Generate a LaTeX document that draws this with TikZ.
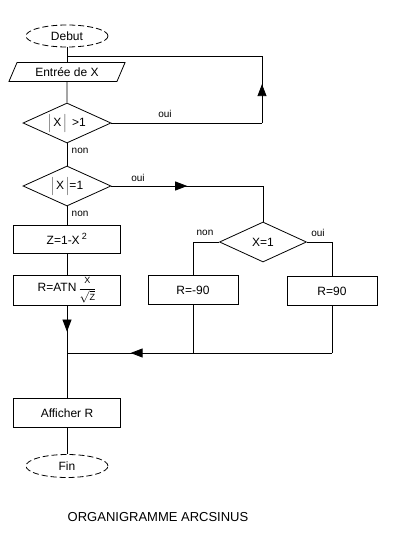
\documentclass[tikz,border=0pt]{standalone}
\usepackage{fontspec}
\setmainfont{Liberation Sans}
\usetikzlibrary{arrows.meta, positioning, shapes.geometric, decorations.markings}

\begin{document}
\begin{tikzpicture}[x=1pt,y=-1pt,line width=0.8pt,
  font=\fontsize{12}{14}\selectfont,
  boite/.style={draw,rectangle,minimum width=107pt,minimum height=29pt},
  losange/.style={draw,diamond,aspect=2.4,inner sep=0pt,minimum width=88pt,minimum height=40pt},
  borne/.style={draw,dash pattern=on 6pt off 3pt,ellipse,minimum width=82pt,minimum height=22pt},
  etiq/.style={font=\fontsize{10}{12}\selectfont},
  milieu/.style={postaction={decorate,decoration={markings,
    mark=at position #1 with {\arrow{Triangle[length=12pt,width=9pt]}}}}}]
  \useasboundingbox (0,0) rectangle (400,543);

  % colonne de gauche
  \node[borne] (debut) at (67,36) {Debut};
  \node[draw,trapezium,trapezium left angle=70,trapezium right angle=110,
    trapezium stretches=true,minimum width=117pt,minimum height=19pt] (entree) at (67,72) {Entrée de X};
  \node[losange] (test1) at (67,123) {$\Big|$\,X\,$\Big|$ \,>1};
  \node[losange] (test2) at (67,186) {$\Big|$\,X\,$\Big|$=1};
  \node[boite,minimum height=28pt] (zcalc) at (67,239) {Z=1-X\,$^{\mbox{\small 2}}$};
  \node[boite,minimum height=30pt,inner sep=1pt] (ratn) at (67,290)
    {R=ATN\,$\displaystyle\frac{\mbox{\small X}}{\sqrt{\mbox{\small Z}}}$};
  \node[boite] (afficher) at (67,413) {Afficher R};
  \node[borne,minimum height=23pt] (fin) at (67,466) {Fin};

  % branche de droite
  \node[losange,minimum width=87pt] (test3) at (263,242) {X=1};
  \node[boite,minimum width=90pt] (rneg) at (193,290) {R=-90};
  \node[boite,minimum width=90pt] (rpos) at (332,291) {R=90};

  \coordinate (boucle1) at (262,123);
  \coordinate (boucle2) at (262,56);
  \coordinate (boucle3) at (67,56);
  \coordinate (coude1) at (263,186);
  \coordinate (coude2) at (193,242);
  \coordinate (coude3) at (332,242);
  \coordinate (bas1) at (193,353);
  \coordinate (bas2) at (332,353);
  \coordinate (jonction) at (67,353);

  \draw (debut) -- (entree);
  \draw (entree) -- (test1);
  \draw (test1.east) -- (boucle1);
  \draw[milieu=0.58] (boucle1) -- (boucle2);
  \draw (boucle2) -- (boucle3);
  \draw (test1) -- (test2);
  \draw (test2) -- (zcalc);
  \draw[milieu=0.5] (test2.east) -- (coude1);
  \draw (coude1) -- (test3.north);
  \draw (test3.west) -- (coude2) -- (rneg);
  \draw (test3.east) -- (coude3) -- (rpos);
  \draw (zcalc) -- (ratn);
  \draw[milieu=0.55] (ratn) -- (jonction);
  \draw (rneg) -- (bas1);
  \draw (rpos) -- (bas2);
  \draw[milieu=0.76] (bas2) -- (jonction);
  \draw (jonction) -- (afficher);
  \draw (afficher) -- (fin);

  % etiquettes
  \node[etiq] (oui1) at (165,114) {oui};
  \node[etiq,right] (non1) at (68,151) {non};
  \node[etiq] (oui2) at (138,178) {oui};
  \node[etiq,right] (non2) at (68,214) {non};
  \node[etiq] (non3) at (205,233) {non};
  \node[etiq] (oui3) at (318,233) {oui};

  \node[font=\fontsize{13}{15}\selectfont] (titre) at (158,517) {ORGANIGRAMME ARCSINUS};
\end{tikzpicture}
\end{document}
